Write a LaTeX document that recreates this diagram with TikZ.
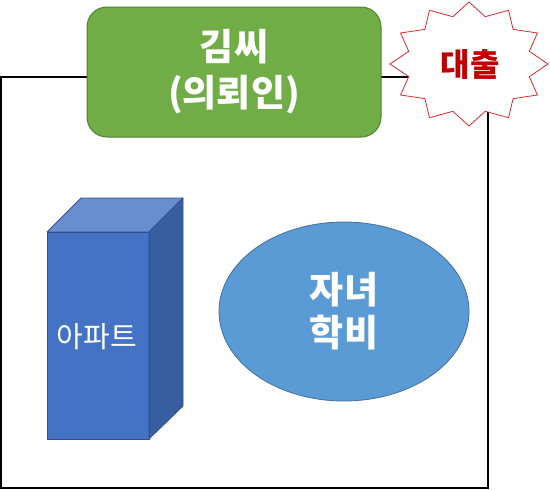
\documentclass[tikz,border=0pt]{standalone}
\usepackage{fontspec}
\newfontfamily\kr{Noto Sans CJK KR}
\definecolor{frameblack}{HTML}{000000}
\definecolor{greenfill}{HTML}{70AD47}
\definecolor{greenedge}{HTML}{507E32}
\definecolor{ellfill}{HTML}{5B9BD5}
\definecolor{elledge}{HTML}{41719C}
\definecolor{cubefront}{HTML}{4472C4}
\definecolor{cubetop}{HTML}{698ED0}
\definecolor{cubeside}{HTML}{365EA0}
\definecolor{cubeedge}{HTML}{2F528F}
\definecolor{starred}{HTML}{E0282C}
\definecolor{loanred}{HTML}{C00000}
\tikzset{
  framebox/.style={draw=frameblack,line width=1.4pt},
  clientbox/.style={draw=greenedge,line width=1pt,fill=greenfill,rounded corners=20pt,
    minimum width=294pt,minimum height=130pt,inner sep=0pt,
    text=white,align=center,font=\kr\bfseries\fontsize{37}{46}\selectfont},
  costell/.style={ellipse,draw=elledge,line width=0.8pt,fill=ellfill,
    minimum width=250pt,minimum height=179pt,inner sep=0pt,
    text=white,align=center,font=\kr\bfseries\fontsize{37}{43}\selectfont},
  cubeface/.style={draw=cubeedge,line width=0.8pt,line join=round},
  starline/.style={draw=starred,line width=0.8pt,fill=white,line join=miter},
  loantext/.style={text=loanred,font=\kr\bfseries\fontsize{32}{36}\selectfont,inner sep=0pt},
  housetext/.style={text=white,font=\kr\fontsize{29}{32}\selectfont,inner sep=0pt}
}
\usetikzlibrary{shapes.geometric}
\begin{document}
\begin{tikzpicture}[x=1pt,y=-1pt]
\useasboundingbox (0,0) rectangle (550,490);
% outer frame
\draw[framebox] (1,77) rectangle (488,488);
% client box
\node[clientbox] (client) at (234,72) {김씨\\(의뢰인)};
% star
\draw[starline] (469,2) \foreach \i in {1,...,23}{
  -- ({469+79*(1-0.21*mod(\i,2))*cos(90+15*\i)},{64-62*(1-0.21*mod(\i,2))*sin(90+15*\i)}) } -- cycle;
\node[loantext] (loan) at (470,64) {대출};
% cuboid
\fill[cubefront,cubeface] (47,232) rectangle (149,439);
\fill[cubetop,cubeface] (47,232) -- (81,198) -- (183,198) -- (149,232) -- cycle;
\fill[cubeside,cubeface] (149,232) -- (183,198) -- (183,406) -- (149,439) -- cycle;
\draw[cubeface] (47,232) rectangle (149,439);
\node[housetext] (house) at (97,337) {아파트};
% ellipse
\node[costell] (cost) at (344,311.5) {자녀\\학비};
\end{tikzpicture}
\end{document}
